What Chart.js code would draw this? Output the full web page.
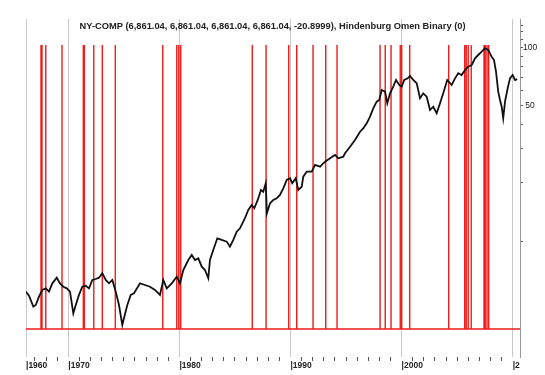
<!DOCTYPE html>
<html><head><meta charset="utf-8">
<script src="https://cdn.jsdelivr.net/npm/chart.js@4"></script>
<style>html,body{margin:0;padding:0;background:#fff}#wrap{width:545px;height:375px;position:relative}</style>
</head><body><div id="wrap"><canvas id="c"></canvas></div>
<script>
const titleText = 'NY-COMP (6,861.04, 6,861.04, 6,861.04, 6,861.04, -20.8999), Hindenburg Omen Binary (0)';

const years = [
1966.17, 1966.46, 1966.85, 1967.07, 1967.36, 1967.66, 1967.97, 1968.26, 1968.56, 1968.96,
1969.25, 1969.55, 1969.86, 1970.15, 1970.45, 1970.67, 1970.96, 1971.26, 1971.57, 1971.86,
1972.16, 1972.47, 1972.76, 1973.06, 1973.37, 1973.66, 1973.96, 1974.27, 1974.56, 1974.86,
1975.01, 1975.31, 1975.62, 1975.91, 1976.45, 1976.90, 1977.35, 1977.80, 1978.25, 1978.55,
1978.86, 1979.31, 1979.76, 1980.05, 1980.35, 1980.80, 1981.11, 1981.40, 1981.70, 1982.01,
1982.30, 1982.60, 1982.75, 1983.05, 1983.41, 1983.81, 1984.26, 1984.55, 1984.85, 1985.16,
1985.45, 1985.90, 1986.20, 1986.51, 1986.74, 1987.05, 1987.34, 1987.55, 1987.77, 1987.88,
1988.16, 1988.45, 1988.76, 1989.05, 1989.35, 1989.66, 1989.96, 1990.16, 1990.47, 1990.70,
1991.01, 1991.15, 1991.46, 1991.91, 1992.21, 1992.66, 1993.11, 1993.56, 1994.01, 1994.30,
1994.75, 1994.91, 1995.36, 1995.81, 1996.26, 1996.55, 1996.86, 1997.16, 1997.45, 1997.76,
1997.99, 1998.21, 1998.51, 1998.71, 1998.96, 1999.25, 1999.50, 1999.79, 2000.01, 2000.24,
2000.55, 2000.76, 2001.05, 2001.36, 2001.66, 2001.95, 2002.26, 2002.56, 2002.85, 2003.16,
2003.46, 2003.75, 2004.11, 2004.51, 2004.81, 2005.10, 2005.41, 2005.71, 2006.00, 2006.31,
2006.61, 2006.90, 2007.21, 2007.51, 2007.80, 2008.11, 2008.32, 2008.50, 2008.70, 2008.86,
2009.01, 2009.15, 2009.31, 2009.55, 2009.76, 2010.00, 2010.21, 2010.41
];

const nyComp = [
551, 525, 461, 470, 519, 562, 573, 551, 608, 650,
608, 584, 573, 551, 426, 470, 530, 584, 591, 573,
633, 640, 650, 685, 633, 608, 633, 551, 470, 371,
402, 470, 530, 540, 608, 596, 584, 562, 530, 633,
573, 608, 658, 608, 712, 802, 851, 802, 818, 741,
712, 646, 802, 903, 1037, 1017, 997, 939, 1017, 1122,
1168, 1316, 1451, 1540, 1481, 1635, 1840, 1803, 1993, 1396,
1571, 1635, 1668, 1734, 1877, 2072, 2114, 1993, 2114, 1840,
1913, 2155, 2286, 2286, 2476, 2426, 2574, 2680, 2787, 2680,
2731, 2844, 3076, 3329, 3675, 3825, 4058, 4391, 4849, 5246,
5352, 6024, 5905, 5148, 5793, 6268, 6785, 6395, 6268, 6785,
6921, 7117, 6785, 6525, 5461, 5793, 5566, 4752, 4942, 4571,
5148, 5793, 6785, 6395, 6921, 7348, 7198, 7641, 7945, 8106,
8778, 9127, 9491, 9880, 9685, 8945, 8601, 7487, 5905, 5352,
4942, 4308, 5246, 6148, 6921, 7198, 6785, 6861
];

// Hindenburg Omen binary signal dates (value 1), otherwise 0
const signalYears = [
1967.54, 1967.63, 1967.97, 1969.43, 1971.35, 1971.44, 1972.29, 1973.06, 1974.23,
1978.50, 1979.76, 1979.94, 1980.12, 1986.56, 1987.80, 1989.84, 1990.56, 1992.03,
1993.17, 1994.19, 1998.06, 1998.53, 1999.05, 1999.88, 2000.01, 2000.73, 2004.24,
2005.68, 2005.82, 2006.00, 2006.27, 2007.42, 2007.53, 2007.69, 2007.84
];

const xMin = 1966.19, xMax = 2010.66;
const xMajorTicks = [1966.19, 1970, 1980, 1990, 2000, 2010];
const xMajorLabels = ['1960', '1970', '1980', '1990', '2000', '2'];
const yTickValues = [1000, 2000, 3000, 4000, 5000, 6000, 7000, 8000, 9000, 10000, 11000, 12000, 13000];
const yTickLabels = {10000: '100', 5000: '50'};
const yMin = 253.7, yMax = 13990;
const binMin = -0.0986, binMax = 1.0915;

const priceData = years.map((x, i) => ({x: x, y: nyComp[i]}));
const binaryData = [{x: xMin, y: 0}];
signalYears.forEach(s => { binaryData.push({x: s, y: 0}, {x: s, y: 1}, {x: s, y: 0}); });
binaryData.push({x: xMax, y: 0});

const majorIndex = v => xMajorTicks.findIndex(m => Math.abs(m - v) < 1e-6);
const xTickList = xMajorTicks.slice();
for (let y = 1967; y <= 2010; y++) if (majorIndex(y) < 0) xTickList.push(y);
xTickList.sort((a, b) => a - b);

const FAM = "'Liberation Sans', Arial, sans-serif";

new Chart(document.getElementById('c'), {
  type: 'line',
  data: {
    datasets: [
      {label: 'NY-COMP', data: priceData, yAxisID: 'y', borderColor: '#111', borderWidth: 1.8,
       pointRadius: 0, tension: 0, fill: false},
      {label: 'Hindenburg Omen Binary', data: binaryData, yAxisID: 'y2', borderColor: '#ee1c1c',
       borderWidth: 1.4, pointRadius: 0, tension: 0, fill: false}
    ]
  },
  options: {
    responsive: true, maintainAspectRatio: false, animation: false, devicePixelRatio: 1,
    layout: {padding: {left: 0, right: 0, top: 0, bottom: 0}},
    plugins: {
      legend: {display: false}, tooltip: {enabled: false},
      title: {display: true, text: titleText, color: '#222',
              font: {family: FAM, size: 9.3, weight: 'bold'},
              padding: {top: 20.42, bottom: -12.58}}
    },
    scales: {
      x: {
        type: 'linear', min: xMin, max: xMax, bounds: 'data', position: 'bottom',
        afterBuildTicks: s => { s.ticks = xTickList.map(v => ({value: v})); },
        afterFit: s => { s.height = 18; },
        ticks: {autoSkip: false, maxRotation: 0, minRotation: 0, align: 'start', padding: 0,
                color: '#222', font: {family: FAM, size: 8.5, weight: 'bold'},
                callback: v => { const i = majorIndex(v); return i >= 0 ? '|' + xMajorLabels[i] : ''; }},
        grid: {drawOnChartArea: true, drawTicks: true, tickLength: 4, lineWidth: 1,
               color: c => (c.tick && majorIndex(c.tick.value) >= 0) ? '#c8c8c8' : 'rgba(0,0,0,0)',
               tickColor: c => (c.tick && majorIndex(c.tick.value) >= 0) ? 'rgba(0,0,0,0)' : '#555'},
        border: {display: false}
      },
      y: {
        type: 'logarithmic', position: 'right', min: yMin, max: yMax, bounds: 'data',
        afterBuildTicks: s => { s.ticks = yTickValues.map(v => ({value: v})); },
        afterFit: s => { s.width = 25; },
        ticks: {autoSkip: false, crossAlign: 'center', padding: 0, color: '#222',
                font: {family: FAM, size: 8.5},
                callback: v => yTickLabels[v] || ''},
        grid: {drawOnChartArea: false, drawTicks: true, tickLength: 3, color: '#555'},
        border: {display: true, color: '#999', width: 1}
      },
      y2: {type: 'linear', position: 'left', min: binMin, max: binMax, display: true,
           afterFit: s => { s.width = 26; },
           ticks: {display: false}, grid: {display: false}, border: {display: false}}
    }
  }
});
</script>
</body></html>
